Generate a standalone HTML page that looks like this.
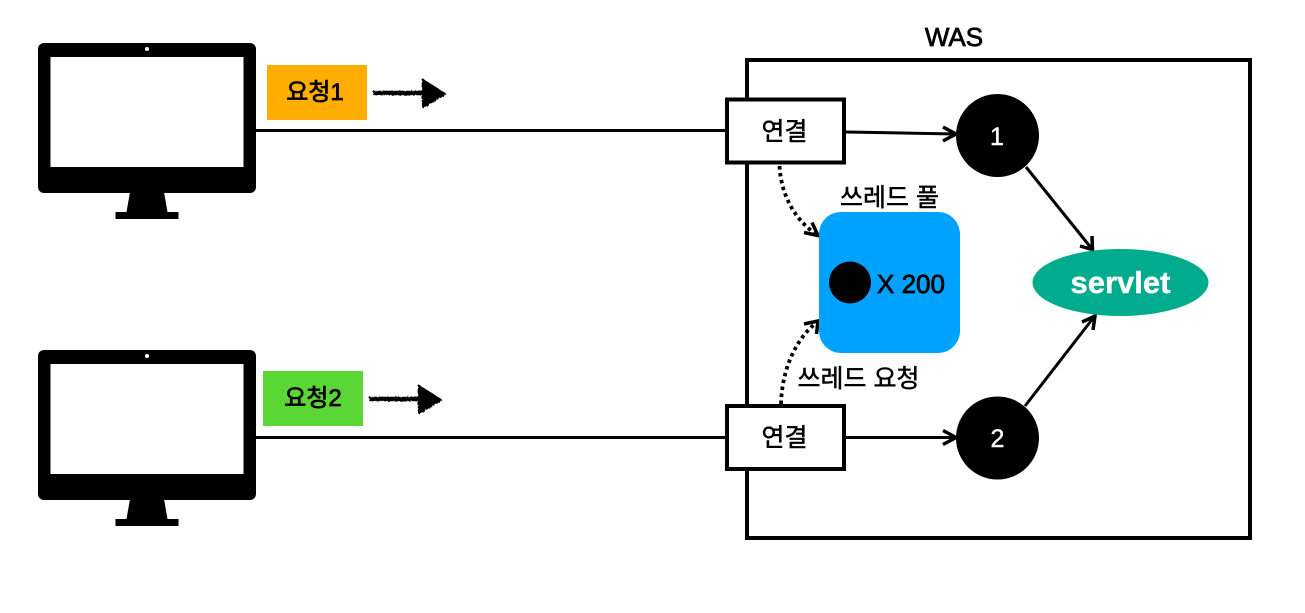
<!DOCTYPE html>
<html lang="ko">
<head>
<meta charset="utf-8">
<style>
html,body{margin:0;padding:0;background:#fff;width:1305px;height:613px;overflow:hidden}
svg{display:block}
text{font-family:"Liberation Sans","Noto Sans CJK KR",sans-serif;fill:#000;stroke:#000;stroke-width:.5px}
text.w{fill:#fff;stroke:#fff;stroke-width:.4px}
text.b{stroke-width:.75px}
</style>
</head>
<body>
<svg width="1305" height="613" viewBox="0 0 1305 613" xmlns="http://www.w3.org/2000/svg">
<defs>
  <filter id="rough" x="-10%" y="-40%" width="120%" height="180%">
    <feTurbulence type="fractalNoise" baseFrequency="0.5" numOctaves="2" seed="4"/>
    <feDisplacementMap in="SourceGraphic" scale="2.500"/>
  </filter>
  <g id="mon">
    <rect x="38" y="43" width="218" height="150" rx="6" fill="#000"/>
    <rect x="50.500" y="57" width="193" height="110" fill="#fff"/>
    <circle cx="147" cy="49" r="2" fill="#fff"/>
    <path d="M130 192L164 192L167.500 212L178.500 212L178.500 219L115.500 219L115.500 212L126.500 212Z" fill="#000"/>
  </g>
  <g id="hand" filter="url(#rough)">
    <path d="M0 0L54 0" stroke="#000" stroke-width="4.500" fill="none"/>
    <path d="M50 -13L72 1L50 14Z" fill="#000" stroke="#000" stroke-width="2" stroke-linejoin="round"/>
  </g>
</defs>

<use href="#mon"/>
<use href="#mon" y="307"/>

<rect x="267" y="65" width="100" height="55" fill="#ffae00"/>
<rect x="263" y="371" width="100" height="55" fill="#5ad734"/>
<text class="b" x="315" y="100" font-size="24" text-anchor="middle">요청1</text>
<text class="b" x="313" y="406" font-size="24" text-anchor="middle">요청2</text>
<use href="#hand" x="373" y="93"/>
<use href="#hand" x="369" y="399"/>

<rect x="747" y="60" width="503" height="478" fill="none" stroke="#000" stroke-width="4"/>
<text class="b" x="954" y="46" font-size="26" text-anchor="middle">WAS</text>

<path d="M256 130.500H726M256 437.500H726" stroke="#000" stroke-width="3" fill="none"/>

<rect x="727" y="99.500" width="117" height="63" fill="#fff" stroke="#000" stroke-width="4"/>
<rect x="727" y="406" width="117" height="63" fill="#fff" stroke="#000" stroke-width="4"/>
<text x="784.500" y="140" font-size="25" text-anchor="middle">연결</text>
<text x="784.500" y="446" font-size="25" text-anchor="middle">연결</text>

<g fill="none" stroke="#000" stroke-width="3">
  <path d="M846 132L955 134"/>
  <path d="M943 127L956 134L943 141" stroke-width="3.500"/>
  <path d="M846 437.500H955"/>
  <path d="M943 430.500L956 437.500L943 444.500" stroke-width="3.500"/>
  <path d="M1026 167L1092 249"/>
  <path d="M1080 246L1092.500 249.500L1092 236" stroke-width="3.500"/>
  <path d="M1025 406L1094 317"/>
  <path d="M1082 322L1095 316L1093 330" stroke-width="3.500"/>
  <path d="M779.500 166C781 195 795 220 816 234" stroke-dasharray="3.500 3.500" stroke-width="3.800"/>
  <path d="M804 232.500L818 235.500L812 222.500" stroke-width="3.500"/>
  <path d="M781 404C782 370 795 340 816 323" stroke-dasharray="3.500 3.500" stroke-width="3.800"/>
  <path d="M804 324L818 321L816.500 334" stroke-width="3.500"/>
</g>

<circle cx="997.500" cy="135.500" r="41.500" fill="#000"/>
<circle cx="997.500" cy="438" r="41.500" fill="#000"/>
<text class="w" x="997" y="145" font-size="25" text-anchor="middle">1</text>
<text class="w" x="997.500" y="447" font-size="25" text-anchor="middle">2</text>

<ellipse cx="1120.500" cy="282.500" rx="88" ry="33.500" fill="#00ab8e"/>
<text class="w" x="1120.500" y="293" font-size="31" font-weight="700" text-anchor="middle">servlet</text>

<rect x="819" y="212" width="141" height="141" rx="22" fill="#00a2ff"/>
<circle cx="850" cy="282.500" r="21" fill="#000"/>
<text class="b" x="877" y="293" font-size="26">X 200</text>

<text x="889.500" y="206" font-size="25" text-anchor="middle">쓰레드 풀</text>
<text x="858.500" y="387" font-size="25" text-anchor="middle">쓰레드 요청</text>
</svg>
</body>
</html>
